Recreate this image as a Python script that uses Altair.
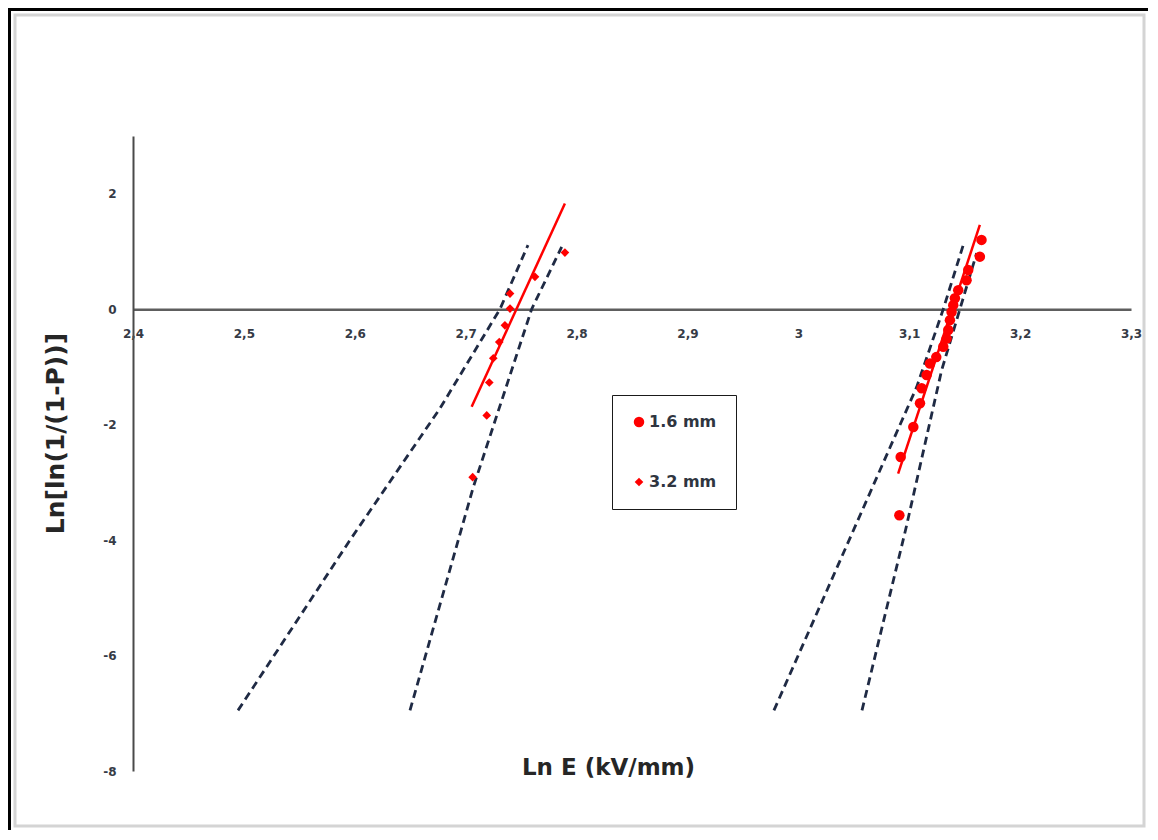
import altair as alt
import pandas as pd

# ---- data ----
series_names = ["1.6 mm", "3.2 mm"]

# 3.2 mm specimens (left cluster, diamonds)
lnE_32 = [2.7063, 2.7190, 2.7213, 2.7249, 2.7303, 2.7354, 2.7400, 2.7400, 2.7625, 2.7895]
lnP_32 = [-2.91, -1.84, -1.27, -0.85, -0.57, -0.28, 0.01, 0.27, 0.56, 0.98]

# 1.6 mm specimens (right cluster, circles)
lnE_16 = [3.0911, 3.0923, 3.1037, 3.1097, 3.1112, 3.1157, 3.1187, 3.1244, 3.1307, 3.1337,
          3.1352, 3.1367, 3.1382, 3.1397, 3.1412, 3.1442, 3.1517, 3.1532, 3.1637, 3.1652]
lnP_16 = [-3.57, -2.56, -2.04, -1.63, -1.37, -1.14, -0.94, -0.83, -0.65, -0.51,
          -0.36, -0.19, -0.05, 0.07, 0.19, 0.33, 0.50, 0.68, 0.91, 1.20]

# Weibull fit lines (solid red)
fit_names = ["fit 3.2", "fit 3.2", "fit 1.6", "fit 1.6"]
fit_x = [2.7054, 2.7895, 3.0900, 3.1637]
fit_y = [-1.69, 1.83, -2.85, 1.46]

# confidence bounds (dashed, slightly curved)
bound_names = (["b1"] * 5) + (["b2"] * 4) + (["b3"] * 5) + (["b4"] * 4)
bound_x = [2.4947, 2.5957, 2.6768, 2.7309, 2.7562,
           2.6498, 2.7066, 2.7595, 2.7866,
           2.9780, 3.0736, 3.1067, 3.1307, 3.1487,
           3.0574, 3.0970, 3.1292, 3.1608]
bound_y = [-6.95, -4.00, -1.72, 0.00, 1.11,
           -6.95, -3.10, 0.00, 1.08,
           -6.95, -2.79, -1.35, 0.00, 1.11,
           -6.95, -3.80, -1.06, 0.97]

x_ticks = [2.4, 2.5, 2.6, 2.7, 2.8, 2.9, 3.0, 3.1, 3.2, 3.3]
y_ticks = [-8, -6, -4, -2, 0, 2]

# ---- layout ----
W, H = 998, 635
TOTAL_W, TOTAL_H = 1140, 822
PAD_L, PAD_T = 125, 128
FONT = "DejaVu Sans"

pts = pd.DataFrame({
    "x": lnE_16 + lnE_32,
    "y": lnP_16 + lnP_32,
    "series": [series_names[0]] * len(lnE_16) + [series_names[1]] * len(lnE_32),
})
fits = pd.DataFrame({"x": fit_x, "y": fit_y, "name": fit_names})
bounds = pd.DataFrame({"x": bound_x, "y": bound_y, "name": bound_names,
                       "o": list(range(len(bound_x)))})
dummy = pd.DataFrame({"k": [0]})

xscale = alt.Scale(domain=[2.4, 3.3], nice=False, zero=False)
yscale = alt.Scale(domain=[-8, 3], nice=False, zero=False)

xaxis = alt.Axis(
    values=x_ticks,
    labelExpr="replace(format(datum.value, '.1~f'), '.', ',')",
    offset=-H * 8 / 11,
    domainColor="#5e5e5e", domainWidth=2.5,
    ticks=False, grid=False,
    labelPadding=19, labelFont=FONT, labelFontSize=12, labelFontWeight="bold",
    labelColor="#363b46", labelFlush=False, labelOverlap=False,
    title="Ln E (kV/mm)", titleX=475, titleY=458,
    titleFont=FONT, titleFontSize=23, titleFontWeight="bold", titleColor="#262626",
    titleAlign="center", titleBaseline="middle",
)
yaxis = alt.Axis(
    values=y_ticks,
    labelExpr="'' + datum.value",
    domainColor="#4a4a4a", domainWidth=2,
    ticks=False, grid=False,
    labelPadding=17, labelFont=FONT, labelFontSize=12, labelFontWeight="bold",
    labelColor="#363b46",
    title="Ln[ln(1/(1-P))]", titleX=-78, titleY=297, titleAngle=-90,
    titleFont=FONT, titleFontSize=25, titleFontWeight="bold", titleColor="#262626",
    titleAlign="center", titleBaseline="middle",
)

X = alt.X("x:Q", scale=xscale, axis=xaxis)
Y = alt.Y("y:Q", scale=yscale, axis=yaxis)

bound_layer = alt.Chart(bounds).mark_line(
    color="#1f2a44", strokeWidth=2.8, strokeDash=[8, 5]
).encode(x=X, y=Y, detail="name:N", order="o:Q")

fit_layer = alt.Chart(fits).mark_line(color="#ff0000", strokeWidth=2.5).encode(
    x=X, y=Y, detail="name:N"
)

point_layer = alt.Chart(pts).mark_point(filled=True, opacity=1).encode(
    x=X, y=Y,
    color=alt.Color("series:N", scale=alt.Scale(domain=series_names, range=["#ff0000", "#ff0000"]),
                    legend=alt.Legend(
                        title=None, orient="none", legendX=479, legendY=259,
                        padding=19, rowPadding=44, strokeColor="#1a1a1a",
                        labelFont=FONT, labelFontSize=16, labelColor="#2f3540",
                        labelFontWeight="bold", labelOffset=2,
                    )),
    shape=alt.Shape("series:N", scale=alt.Scale(domain=series_names, range=["circle", "diamond"])),
    size=alt.Size("series:N", scale=alt.Scale(domain=series_names, range=[110, 75])),
)

# outer frame of the figure (decoration)
frame_grey = alt.Chart(dummy).mark_rect(fill=None, stroke="#d4d4d4", strokeWidth=3).encode(
    x=alt.value(-118), x2=alt.value(TOTAL_W - PAD_L - 4),
    y=alt.value(-121), y2=alt.value(TOTAL_H - PAD_T - 4),
)
frame_left = alt.Chart(dummy).mark_rule(color="black", strokeWidth=3).encode(
    x=alt.value(-123.5), y=alt.value(-128), y2=alt.value(TOTAL_H - PAD_T),
)
frame_top = alt.Chart(dummy).mark_rule(color="black", strokeWidth=3).encode(
    x=alt.value(-125), x2=alt.value(TOTAL_W - PAD_L), y=alt.value(-126.5),
)

chart = alt.layer(
    frame_grey, frame_left, frame_top, bound_layer, fit_layer, point_layer
).properties(
    width=W, height=H,
    background="white",
    autosize=alt.AutoSizeParams(type="none"),
    padding={"left": PAD_L, "top": PAD_T, "right": TOTAL_W - PAD_L - W, "bottom": TOTAL_H - PAD_T - H},
).configure_view(stroke=None)

chart.save("out.html", embed_options={"renderer": "svg", "actions": False})
